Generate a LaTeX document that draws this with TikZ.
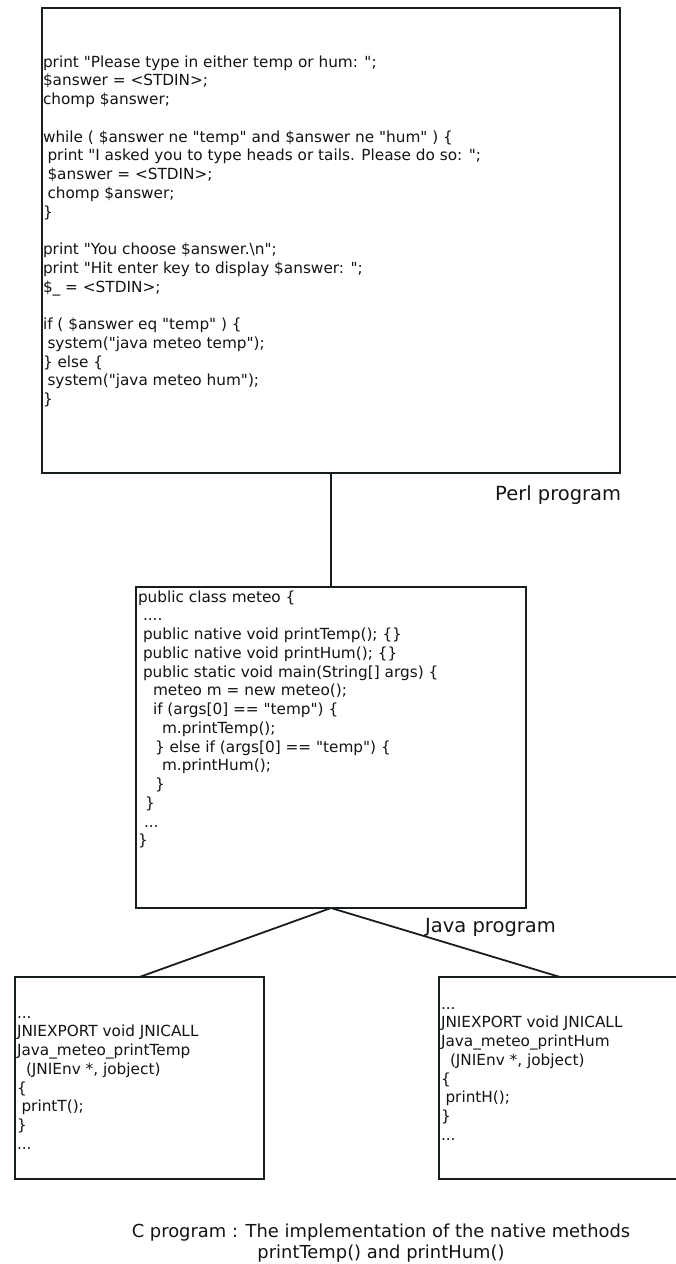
\documentclass[tikz,border=0pt]{standalone}
\usepackage{fontspec}
\setmainfont{DejaVu Sans}[Ligatures=TeXOff]
\definecolor{edge}{RGB}{22,30,34}
\definecolor{ink}{RGB}{20,20,20}
\newcommand\indt[1]{\hspace*{#1pt}}
\newcommand\codefont{\fontsize{15.3}{18.75}\selectfont}
% a block of left-aligned lines whose reference point is the first baseline
\newenvironment{lines}{\begin{tabular}[t]{@{}l@{}}}{\end{tabular}}
\tikzset{
  box/.style={draw=edge, line width=1.8pt, inner sep=0pt, outer sep=0pt, fill=white},
  code/.style={inner sep=0pt, outer sep=0pt, anchor=base west, text=ink, font=\codefont},
  tag/.style={inner sep=0pt, anchor=base west, text=ink, font=\fontsize{19.5}{23}\selectfont},
  link/.style={draw=edge, line width=1.8pt},
}
\begin{document}
\begin{tikzpicture}[x=1pt, y=-1pt]
\useasboundingbox (0,0) rectangle (675,1264);

% boxes
\node[box, minimum width=578pt, minimum height=465pt] (perl) at (331,240.5) {};
\node[box, minimum width=390pt, minimum height=321pt] (java) at (331,747.5) {};
\node[box, minimum width=249pt, minimum height=202pt] (cleft) at (139.5,1078) {};
\node[box, minimum width=242pt, minimum height=202pt] (cright) at (560,1078) {};

% connectors
\draw[link] (perl.south) -- (java.north);
\draw[link] (java.south) -- (cleft.north);
\draw[link] (java.south) -- (cright.north);

% Perl source
\node[code] (perlcode) at (43,67) {\begin{lines}
print "Please type in either temp or hum: ";\\
\$answer = <STDIN>;\\
chomp \$answer;\\
\\
while ( \$answer ne "temp" and \$answer ne "hum" ) \{\\
\indt{4.5}print "I asked you to type heads or tails. Please do so: ";\\
\indt{4.5}\$answer = <STDIN>;\\
\indt{4.5}chomp \$answer;\\
\}\\
\\
print "You choose \$answer.\textbackslash n";\\
print "Hit enter key to display \$answer: ";\\
\$\_ = <STDIN>;\\
\\
if ( \$answer eq "temp" ) \{\\
\indt{4.5}system("java meteo temp");\\
\} else \{\\
\indt{4.5}system("java meteo hum");\\
\}
\end{lines}};

% Java source
\node[code] (javacode) at (138,602) {\begin{lines}
public class meteo \{\\
\indt{5}....\\
\indt{5}public native void printTemp(); \{\}\\
\indt{5}public native void printHum(); \{\}\\
\indt{5}public static void main(String[] args) \{\\
\indt{15}meteo m = new meteo();\\
\indt{15}if (args[0] == "temp") \{\\
\indt{24}m.printTemp();\\
\indt{17}\} else if (args[0] == "temp") \{\\
\indt{24}m.printHum();\\
\indt{17}\}\\
\indt{7}\}\\
\indt{6}...\\
\}
\end{lines}};

% C sources
\node[code] (ccodeleft) at (17,1018) {\begin{lines}
...\\
JNIEXPORT void JNICALL\\
Java\_meteo\_printTemp\\
\indt{9}(JNIEnv *, jobject)\\
\{\\
\indt{4.5}printT();\\
\}\\
...
\end{lines}};

\node[code] (ccoderight) at (441,1009) {\begin{lines}
...\\
JNIEXPORT void JNICALL\\
Java\_meteo\_printHum\\
\indt{9}(JNIEnv *, jobject)\\
\{\\
\indt{4.5}printH();\\
\}\\
...
\end{lines}};

% labels
\node[tag] (perllabel) at (495,500) {Perl program};
\node[tag] (javalabel) at (425,932) {Java program};
\node[inner sep=0pt, anchor=base, text=ink,
      font=\fontsize{17.9}{21}\selectfont] (caption) at (381,1237)
  {\begin{tabular}[t]{@{}c@{}}C program : The implementation of the native methods\\printTemp() and printHum()\end{tabular}};
\end{tikzpicture}
\end{document}
